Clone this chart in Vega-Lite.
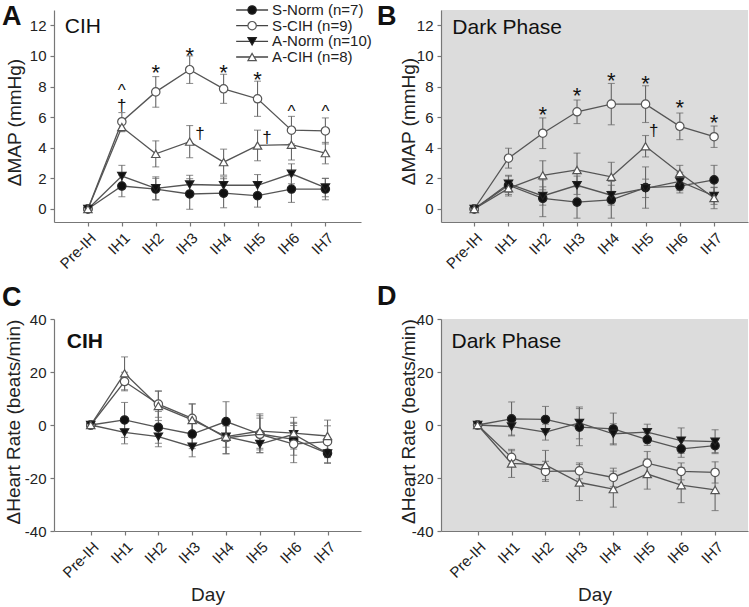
{
  "$schema": "https://vega.github.io/schema/vega-lite/v6.json",
  "autosize": {"type": "none"},
  "padding": {"left": 54, "top": 10, "right": 695, "bottom": 597},
  "background": "white",
  "bounds": "flush",
  "columns": 2,
  "spacing": {"row": 97, "column": 80},
  "resolve": {"scale": {"x": "independent", "y": "independent", "shape": "independent", "fill": "independent", "stroke": "independent"}},
  "config": {
    "font": "Liberation Sans",
    "view": {"stroke": null},
    "axis": {"domainColor": "#777", "tickColor": "#777", "labelColor": "#222", "titleColor": "#222", "labelFontSize": 15, "titleFontSize": 19, "titleFontWeight": "normal", "grid": false, "tickSize": 4, "labelPadding": 4, "domainWidth": 1.2, "tickWidth": 1.2},
    "title": {"font": "Liberation Sans"}
  },
  "datasets": {
    "legend": [
      {"series": "S-Norm (n=7)"},
      {"series": "S-CIH (n=9)"},
      {"series": "A-Norm (n=10)"},
      {"series": "A-CIH (n=8)"}
    ],
    "series": [
      {"panel": "A", "series": "S-Norm (n=7)", "day": 0, "mean": 0, "err": 0},
      {"panel": "A", "series": "S-Norm (n=7)", "day": 1, "mean": 1.5, "err": 0.7},
      {"panel": "A", "series": "S-Norm (n=7)", "day": 2, "mean": 1.3, "err": 0.7},
      {"panel": "A", "series": "S-Norm (n=7)", "day": 3, "mean": 0.98, "err": 1.0},
      {"panel": "A", "series": "S-Norm (n=7)", "day": 4, "mean": 1.03, "err": 0.95},
      {"panel": "A", "series": "S-Norm (n=7)", "day": 5, "mean": 0.87, "err": 0.75},
      {"panel": "A", "series": "S-Norm (n=7)", "day": 6, "mean": 1.3, "err": 0.87},
      {"panel": "A", "series": "S-Norm (n=7)", "day": 7, "mean": 1.3, "err": 0.7},
      {"panel": "A", "series": "S-CIH (n=9)", "day": 0, "mean": 0, "err": 0},
      {"panel": "A", "series": "S-CIH (n=9)", "day": 1, "mean": 5.7, "err": 0.6},
      {"panel": "A", "series": "S-CIH (n=9)", "day": 2, "mean": 7.65, "err": 1.0},
      {"panel": "A", "series": "S-CIH (n=9)", "day": 3, "mean": 9.1, "err": 0.9},
      {"panel": "A", "series": "S-CIH (n=9)", "day": 4, "mean": 7.85, "err": 0.95},
      {"panel": "A", "series": "S-CIH (n=9)", "day": 5, "mean": 7.2, "err": 1.15},
      {"panel": "A", "series": "S-CIH (n=9)", "day": 6, "mean": 5.15, "err": 0.9},
      {"panel": "A", "series": "S-CIH (n=9)", "day": 7, "mean": 5.1, "err": 0.85},
      {"panel": "A", "series": "A-Norm (n=10)", "day": 0, "mean": 0, "err": 0},
      {"panel": "A", "series": "A-Norm (n=10)", "day": 1, "mean": 2.15, "err": 0.7},
      {"panel": "A", "series": "A-Norm (n=10)", "day": 2, "mean": 1.35, "err": 0.75},
      {"panel": "A", "series": "A-Norm (n=10)", "day": 3, "mean": 1.6, "err": 0.6},
      {"panel": "A", "series": "A-Norm (n=10)", "day": 4, "mean": 1.55, "err": 0.55},
      {"panel": "A", "series": "A-Norm (n=10)", "day": 5, "mean": 1.55, "err": 0.7},
      {"panel": "A", "series": "A-Norm (n=10)", "day": 6, "mean": 2.3, "err": 0.65},
      {"panel": "A", "series": "A-Norm (n=10)", "day": 7, "mean": 1.4, "err": 0.6},
      {"panel": "A", "series": "A-CIH (n=8)", "day": 0, "mean": 0, "err": 0},
      {"panel": "A", "series": "A-CIH (n=8)", "day": 1, "mean": 5.35, "err": 0.3},
      {"panel": "A", "series": "A-CIH (n=8)", "day": 2, "mean": 3.6, "err": 0.85},
      {"panel": "A", "series": "A-CIH (n=8)", "day": 3, "mean": 4.4, "err": 1.05},
      {"panel": "A", "series": "A-CIH (n=8)", "day": 4, "mean": 3.06, "err": 0.85},
      {"panel": "A", "series": "A-CIH (n=8)", "day": 5, "mean": 4.15, "err": 1.0},
      {"panel": "A", "series": "A-CIH (n=8)", "day": 6, "mean": 4.2, "err": 1.0},
      {"panel": "A", "series": "A-CIH (n=8)", "day": 7, "mean": 3.65, "err": 0.7},

      {"panel": "B", "series": "S-Norm (n=7)", "day": 0, "mean": 0, "err": 0},
      {"panel": "B", "series": "S-Norm (n=7)", "day": 1, "mean": 1.55, "err": 0.6},
      {"panel": "B", "series": "S-Norm (n=7)", "day": 2, "mean": 0.7, "err": 1.2},
      {"panel": "B", "series": "S-Norm (n=7)", "day": 3, "mean": 0.45, "err": 1.05},
      {"panel": "B", "series": "S-Norm (n=7)", "day": 4, "mean": 0.6, "err": 1.2},
      {"panel": "B", "series": "S-Norm (n=7)", "day": 5, "mean": 1.4, "err": 1.35},
      {"panel": "B", "series": "S-Norm (n=7)", "day": 6, "mean": 1.5, "err": 0.45},
      {"panel": "B", "series": "S-Norm (n=7)", "day": 7, "mean": 1.9, "err": 0.95},
      {"panel": "B", "series": "S-CIH (n=9)", "day": 0, "mean": 0, "err": 0},
      {"panel": "B", "series": "S-CIH (n=9)", "day": 1, "mean": 3.32, "err": 0.65},
      {"panel": "B", "series": "S-CIH (n=9)", "day": 2, "mean": 4.95, "err": 1.0},
      {"panel": "B", "series": "S-CIH (n=9)", "day": 3, "mean": 6.35, "err": 0.77},
      {"panel": "B", "series": "S-CIH (n=9)", "day": 4, "mean": 6.85, "err": 1.35},
      {"panel": "B", "series": "S-CIH (n=9)", "day": 5, "mean": 6.85, "err": 1.2},
      {"panel": "B", "series": "S-CIH (n=9)", "day": 6, "mean": 5.4, "err": 0.87},
      {"panel": "B", "series": "S-CIH (n=9)", "day": 7, "mean": 4.72, "err": 0.7},
      {"panel": "B", "series": "A-Norm (n=10)", "day": 0, "mean": 0, "err": 0},
      {"panel": "B", "series": "A-Norm (n=10)", "day": 1, "mean": 1.65, "err": 0.55},
      {"panel": "B", "series": "A-Norm (n=10)", "day": 2, "mean": 0.85, "err": 0.6},
      {"panel": "B", "series": "A-Norm (n=10)", "day": 3, "mean": 1.55, "err": 0.6},
      {"panel": "B", "series": "A-Norm (n=10)", "day": 4, "mean": 0.9, "err": 0.65},
      {"panel": "B", "series": "A-Norm (n=10)", "day": 5, "mean": 1.35, "err": 0.6},
      {"panel": "B", "series": "A-Norm (n=10)", "day": 6, "mean": 1.8, "err": 0.6},
      {"panel": "B", "series": "A-Norm (n=10)", "day": 7, "mean": 0.85, "err": 0.55},
      {"panel": "B", "series": "A-CIH (n=8)", "day": 0, "mean": 0, "err": 0},
      {"panel": "B", "series": "A-CIH (n=8)", "day": 1, "mean": 1.35, "err": 0.5},
      {"panel": "B", "series": "A-CIH (n=8)", "day": 2, "mean": 2.2, "err": 0.95},
      {"panel": "B", "series": "A-CIH (n=8)", "day": 3, "mean": 2.55, "err": 1.1},
      {"panel": "B", "series": "A-CIH (n=8)", "day": 4, "mean": 2.1, "err": 0.95},
      {"panel": "B", "series": "A-CIH (n=8)", "day": 5, "mean": 4.1, "err": 0.7},
      {"panel": "B", "series": "A-CIH (n=8)", "day": 6, "mean": 2.35, "err": 0.5},
      {"panel": "B", "series": "A-CIH (n=8)", "day": 7, "mean": 0.72, "err": 0.7},

      {"panel": "C", "series": "S-Norm (n=7)", "day": 0, "mean": 0, "err": 0},
      {"panel": "C", "series": "S-Norm (n=7)", "day": 1, "mean": 1.9, "err": 6.6},
      {"panel": "C", "series": "S-Norm (n=7)", "day": 2, "mean": -0.9, "err": 6},
      {"panel": "C", "series": "S-Norm (n=7)", "day": 3, "mean": -3.4, "err": 5.5},
      {"panel": "C", "series": "S-Norm (n=7)", "day": 4, "mean": 1.3, "err": 7.5},
      {"panel": "C", "series": "S-Norm (n=7)", "day": 5, "mean": -3.4, "err": 6},
      {"panel": "C", "series": "S-Norm (n=7)", "day": 6, "mean": -5.4, "err": 6},
      {"panel": "C", "series": "S-Norm (n=7)", "day": 7, "mean": -10.7, "err": 3.8},
      {"panel": "C", "series": "S-CIH (n=9)", "day": 0, "mean": 0, "err": 0},
      {"panel": "C", "series": "S-CIH (n=9)", "day": 1, "mean": 16.4, "err": 3.5},
      {"panel": "C", "series": "S-CIH (n=9)", "day": 2, "mean": 7.9, "err": 5},
      {"panel": "C", "series": "S-CIH (n=9)", "day": 3, "mean": 2.5, "err": 5.5},
      {"panel": "C", "series": "S-CIH (n=9)", "day": 4, "mean": -4.8, "err": 6},
      {"panel": "C", "series": "S-CIH (n=9)", "day": 5, "mean": -3.5, "err": 7},
      {"panel": "C", "series": "S-CIH (n=9)", "day": 6, "mean": -7.2, "err": 7},
      {"panel": "C", "series": "S-CIH (n=9)", "day": 7, "mean": -6.3, "err": 6},
      {"panel": "C", "series": "A-Norm (n=10)", "day": 0, "mean": 0, "err": 0},
      {"panel": "C", "series": "A-Norm (n=10)", "day": 1, "mean": -2.8, "err": 4.3},
      {"panel": "C", "series": "A-Norm (n=10)", "day": 2, "mean": -4.4, "err": 3.8},
      {"panel": "C", "series": "A-Norm (n=10)", "day": 3, "mean": -8.2, "err": 3.8},
      {"panel": "C", "series": "A-Norm (n=10)", "day": 4, "mean": -4.4, "err": 4},
      {"panel": "C", "series": "A-Norm (n=10)", "day": 5, "mean": -7.2, "err": 3.2},
      {"panel": "C", "series": "A-Norm (n=10)", "day": 6, "mean": -3.5, "err": 4.5},
      {"panel": "C", "series": "A-Norm (n=10)", "day": 7, "mean": -10.7, "err": 3.5},
      {"panel": "C", "series": "A-CIH (n=8)", "day": 0, "mean": 0, "err": 0},
      {"panel": "C", "series": "A-CIH (n=8)", "day": 1, "mean": 19.5, "err": 6.2},
      {"panel": "C", "series": "A-CIH (n=8)", "day": 2, "mean": 7.2, "err": 5.5},
      {"panel": "C", "series": "A-CIH (n=8)", "day": 3, "mean": 1.9, "err": 6},
      {"panel": "C", "series": "A-CIH (n=8)", "day": 4, "mean": -4.4, "err": 6.5},
      {"panel": "C", "series": "A-CIH (n=8)", "day": 5, "mean": -2.3, "err": 6.5},
      {"panel": "C", "series": "A-CIH (n=8)", "day": 6, "mean": -3.1, "err": 6},
      {"panel": "C", "series": "A-CIH (n=8)", "day": 7, "mean": -4.15, "err": 6},

      {"panel": "D", "series": "S-Norm (n=7)", "day": 0, "mean": 0, "err": 0},
      {"panel": "D", "series": "S-Norm (n=7)", "day": 1, "mean": 2.3, "err": 6.4},
      {"panel": "D", "series": "S-Norm (n=7)", "day": 2, "mean": 2.1, "err": 4.9},
      {"panel": "D", "series": "S-Norm (n=7)", "day": 3, "mean": -0.8, "err": 7.0},
      {"panel": "D", "series": "S-Norm (n=7)", "day": 4, "mean": -1.5, "err": 6.0},
      {"panel": "D", "series": "S-Norm (n=7)", "day": 5, "mean": -5.5, "err": 2.2},
      {"panel": "D", "series": "S-Norm (n=7)", "day": 6, "mean": -9.0, "err": 3.2},
      {"panel": "D", "series": "S-Norm (n=7)", "day": 7, "mean": -7.8, "err": 2.6},
      {"panel": "D", "series": "S-CIH (n=9)", "day": 0, "mean": 0, "err": 0},
      {"panel": "D", "series": "S-CIH (n=9)", "day": 1, "mean": -12.2, "err": 2.5},
      {"panel": "D", "series": "S-CIH (n=9)", "day": 2, "mean": -17.5, "err": 3.8},
      {"panel": "D", "series": "S-CIH (n=9)", "day": 3, "mean": -17.3, "err": 3.0},
      {"panel": "D", "series": "S-CIH (n=9)", "day": 4, "mean": -19.8, "err": 3.5},
      {"panel": "D", "series": "S-CIH (n=9)", "day": 5, "mean": -14.4, "err": 4.4},
      {"panel": "D", "series": "S-CIH (n=9)", "day": 6, "mean": -17.5, "err": 3.2},
      {"panel": "D", "series": "S-CIH (n=9)", "day": 7, "mean": -17.9, "err": 4.0},
      {"panel": "D", "series": "A-Norm (n=10)", "day": 0, "mean": 0, "err": 0},
      {"panel": "D", "series": "A-Norm (n=10)", "day": 1, "mean": -0.6, "err": 3.2},
      {"panel": "D", "series": "A-Norm (n=10)", "day": 2, "mean": -2.7, "err": 3.0},
      {"panel": "D", "series": "A-Norm (n=10)", "day": 3, "mean": 0.8, "err": 6.0},
      {"panel": "D", "series": "A-Norm (n=10)", "day": 4, "mean": -3.3, "err": 3.8},
      {"panel": "D", "series": "A-Norm (n=10)", "day": 5, "mean": -2.7, "err": 3.0},
      {"panel": "D", "series": "A-Norm (n=10)", "day": 6, "mean": -5.9, "err": 4.8},
      {"panel": "D", "series": "A-Norm (n=10)", "day": 7, "mean": -6.3, "err": 4.5},
      {"panel": "D", "series": "A-CIH (n=8)", "day": 0, "mean": 0, "err": 0},
      {"panel": "D", "series": "A-CIH (n=8)", "day": 1, "mean": -14.5, "err": 5.3},
      {"panel": "D", "series": "A-CIH (n=8)", "day": 2, "mean": -15.1, "err": 5.5},
      {"panel": "D", "series": "A-CIH (n=8)", "day": 3, "mean": -21.7, "err": 6.8},
      {"panel": "D", "series": "A-CIH (n=8)", "day": 4, "mean": -24.2, "err": 6.8},
      {"panel": "D", "series": "A-CIH (n=8)", "day": 5, "mean": -18.5, "err": 5.7},
      {"panel": "D", "series": "A-CIH (n=8)", "day": 6, "mean": -22.7, "err": 6.6},
      {"panel": "D", "series": "A-CIH (n=8)", "day": 7, "mean": -24.5, "err": 7.8}
    ],
    "marks": [
      {"panel": "A", "day": 1, "mean": 7.41, "label": "^"},
      {"panel": "A", "day": 1, "mean": 6.43, "label": "†"},
      {"panel": "A", "day": 2, "mean": 8.43, "label": "*"},
      {"panel": "A", "day": 3, "mean": 9.54, "label": "*"},
      {"panel": "A", "day": 4, "mean": 8.43, "label": "*"},
      {"panel": "A", "day": 5, "mean": 7.98, "label": "*"},
      {"panel": "A", "day": 6, "mean": 6.01, "label": "^"},
      {"panel": "A", "day": 7, "mean": 6.01, "label": "^"},
      {"panel": "A", "day": 3.3, "mean": 4.57, "label": "†"},
      {"panel": "A", "day": 5.28, "mean": 4.31, "label": "†"},
      {"panel": "B", "day": 2, "mean": 5.69, "label": "*"},
      {"panel": "B", "day": 3, "mean": 6.9, "label": "*"},
      {"panel": "B", "day": 4, "mean": 7.92, "label": "*"},
      {"panel": "B", "day": 5, "mean": 7.7, "label": "*"},
      {"panel": "B", "day": 6, "mean": 6.13, "label": "*"},
      {"panel": "B", "day": 7, "mean": 5.15, "label": "*"},
      {"panel": "B", "day": 5.24, "mean": 4.74, "label": "†"}
    ],
    "names": [
      {"panel": "A", "day": -0.68, "mean": 11.48, "label": "CIH"},
      {"panel": "B", "day": -0.64, "mean": 11.41, "label": "Dark Phase"},
      {"panel": "C", "day": -0.71, "mean": 28.9, "label": "CIH"},
      {"panel": "D", "day": -0.77, "mean": 28.9, "label": "Dark Phase"}
    ]
  },
  "concat": [
    {
      "width": 307, "height": 212,
      "title": {"text": "A", "anchor": "start", "frame": "group", "fontSize": 27, "fontWeight": "bold", "color": "#111", "dx": -52, "offset": -49, "baseline": "alphabetic"},
      "resolve": {"scale": {"y": "independent"}},
      "layer": [
        {
          "encoding": {
            "x": {"field": "day", "type": "quantitative", "scale": {"domain": [-1, 8.05], "nice": false, "zero": false},
                  "axis": {"values": [0, 1, 2, 3, 4, 5, 6, 7], "labelExpr": "['Pre-IH','IH1','IH2','IH3','IH4','IH5','IH6','IH7'][datum.value]", "labelAngle": -45, "labelAlign": "right", "labelBaseline": "top", "title": null}},
            "y": {"field": "mean", "type": "quantitative", "scale": {"domain": [-0.85, 13], "nice": false, "zero": false},
                  "axis": {"values": [0, 2, 4, 6, 8, 10, 12], "title": "ΔMAP (mmHg)", "titleX": -40, "titleY": 112, "titleBaseline": "middle"}}
          },
          "layer": [
            {"data": {"name": "series"}, "transform": [{"filter": "datum.panel == 'A' && datum.day > 0"}],
             "mark": {"type": "errorbar", "color": "#666", "thickness": 1.1, "ticks": {"size": 7, "color": "#666", "strokeWidth": 1.1}},
             "encoding": {"yError": {"field": "err"}}},
            {"data": {"name": "series"}, "transform": [{"filter": "datum.panel == 'A'"}],
             "mark": {"type": "line", "color": "#555", "strokeWidth": 1.3},
             "encoding": {"detail": {"field": "series"}}},
            {"data": {"name": "series"}, "transform": [{"filter": "datum.panel == 'A'"}],
             "mark": {"type": "point", "filled": true, "size": 70, "strokeWidth": 1.2, "opacity": 1},
             "encoding": {
               "shape": {"field": "series", "type": "nominal", "scale": {"domain": ["S-Norm (n=7)", "S-CIH (n=9)", "A-Norm (n=10)", "A-CIH (n=8)"], "range": ["circle", "circle", "triangle-down", "triangle-up"]}, "legend": null},
               "fill": {"field": "series", "type": "nominal", "scale": {"domain": ["S-Norm (n=7)", "S-CIH (n=9)", "A-Norm (n=10)", "A-CIH (n=8)"], "range": ["#111111", "#ffffff", "#111111", "#ffffff"]}, "legend": null},
               "stroke": {"field": "series", "type": "nominal", "scale": {"domain": ["S-Norm (n=7)", "S-CIH (n=9)", "A-Norm (n=10)", "A-CIH (n=8)"], "range": ["#222222", "#555555", "#222222", "#555555"]}, "legend": null}
             }},
            {"data": {"name": "marks"}, "transform": [{"filter": "datum.panel == 'A' && datum.label == '*'"}],
             "mark": {"type": "text", "fontSize": 22, "color": "#111", "baseline": "alphabetic", "align": "center"},
             "encoding": {"text": {"field": "label"}}},
            {"data": {"name": "marks"}, "transform": [{"filter": "datum.panel == 'A' && datum.label != '*'"}],
             "mark": {"type": "text", "fontSize": 17, "color": "#111", "baseline": "alphabetic", "align": "center"},
             "encoding": {"text": {"field": "label"}}},
            {"data": {"name": "names"}, "transform": [{"filter": "datum.panel == 'A'"}],
             "mark": {"type": "text", "fontSize": 21, "color": "#111", "baseline": "alphabetic", "align": "left"},
             "encoding": {"text": {"field": "label"}}}
          ]
        },
        {
          "data": {"name": "legend"},
          "encoding": {
            "y": {"field": "series", "type": "nominal", "scale": {"type": "point", "domain": ["S-Norm (n=7)", "S-CIH (n=9)", "A-Norm (n=10)", "A-CIH (n=8)"], "range": [0, 47], "padding": 0}, "axis": null}
          },
          "layer": [
            {"mark": {"type": "rule", "color": "#444", "strokeWidth": 1.3},
             "encoding": {"x": {"datum": 4.37, "type": "quantitative"}, "x2": {"datum": 5.31}}},
            {"mark": {"type": "point", "filled": true, "size": 70, "strokeWidth": 1.2, "opacity": 1},
             "encoding": {
               "x": {"datum": 4.84, "type": "quantitative"},
               "shape": {"field": "series", "type": "nominal", "scale": {"domain": ["S-Norm (n=7)", "S-CIH (n=9)", "A-Norm (n=10)", "A-CIH (n=8)"], "range": ["circle", "circle", "triangle-down", "triangle-up"]}, "legend": null},
               "fill": {"field": "series", "type": "nominal", "scale": {"domain": ["S-Norm (n=7)", "S-CIH (n=9)", "A-Norm (n=10)", "A-CIH (n=8)"], "range": ["#111111", "#ffffff", "#111111", "#ffffff"]}, "legend": null},
               "stroke": {"field": "series", "type": "nominal", "scale": {"domain": ["S-Norm (n=7)", "S-CIH (n=9)", "A-Norm (n=10)", "A-CIH (n=8)"], "range": ["#222222", "#555555", "#222222", "#555555"]}, "legend": null}
             }},
            {"mark": {"type": "text", "fontSize": 15, "color": "#222", "baseline": "middle", "align": "left"},
             "encoding": {"x": {"datum": 5.43, "type": "quantitative"}, "text": {"field": "series"}, "size": {"value": 15}}}
          ]
        }
      ]
    },
    {
      "width": 307, "height": 212,
      "view": {"fill": "#dcdcdc", "stroke": null},
      "title": {"text": "B", "anchor": "start", "frame": "group", "fontSize": 27, "fontWeight": "bold", "color": "#111", "dx": -64, "offset": -42, "baseline": "alphabetic"},
      "encoding": {
        "x": {"field": "day", "type": "quantitative", "scale": {"domain": [-0.97, 7.99], "nice": false, "zero": false},
              "axis": {"values": [0, 1, 2, 3, 4, 5, 6, 7], "labelExpr": "['Pre-IH','IH1','IH2','IH3','IH4','IH5','IH6','IH7'][datum.value]", "labelAngle": -45, "labelAlign": "right", "labelBaseline": "top", "title": null}},
        "y": {"field": "mean", "type": "quantitative", "scale": {"domain": [-0.85, 13], "nice": false, "zero": false},
              "axis": {"values": [0, 2, 4, 6, 8, 10, 12], "title": "ΔMAP (mmHg)", "titleX": -33, "titleY": 111, "titleBaseline": "middle"}}
      },
      "layer": [
        {"data": {"name": "series"}, "transform": [{"filter": "datum.panel == 'B' && datum.day > 0"}],
         "mark": {"type": "errorbar", "color": "#666", "thickness": 1.1, "ticks": {"size": 7, "color": "#666", "strokeWidth": 1.1}},
         "encoding": {"yError": {"field": "err"}}},
        {"data": {"name": "series"}, "transform": [{"filter": "datum.panel == 'B'"}],
         "mark": {"type": "line", "color": "#555", "strokeWidth": 1.3},
         "encoding": {"detail": {"field": "series"}}},
        {"data": {"name": "series"}, "transform": [{"filter": "datum.panel == 'B'"}],
         "mark": {"type": "point", "filled": true, "size": 70, "strokeWidth": 1.2, "opacity": 1},
         "encoding": {
           "shape": {"field": "series", "type": "nominal", "scale": {"domain": ["S-Norm (n=7)", "S-CIH (n=9)", "A-Norm (n=10)", "A-CIH (n=8)"], "range": ["circle", "circle", "triangle-down", "triangle-up"]}, "legend": null},
           "fill": {"field": "series", "type": "nominal", "scale": {"domain": ["S-Norm (n=7)", "S-CIH (n=9)", "A-Norm (n=10)", "A-CIH (n=8)"], "range": ["#111111", "#ffffff", "#111111", "#ffffff"]}, "legend": null},
           "stroke": {"field": "series", "type": "nominal", "scale": {"domain": ["S-Norm (n=7)", "S-CIH (n=9)", "A-Norm (n=10)", "A-CIH (n=8)"], "range": ["#222222", "#555555", "#222222", "#555555"]}, "legend": null}
         }},
        {"data": {"name": "marks"}, "transform": [{"filter": "datum.panel == 'B' && datum.label == '*'"}],
         "mark": {"type": "text", "fontSize": 22, "color": "#111", "baseline": "alphabetic", "align": "center"},
         "encoding": {"text": {"field": "label"}}},
        {"data": {"name": "marks"}, "transform": [{"filter": "datum.panel == 'B' && datum.label != '*'"}],
         "mark": {"type": "text", "fontSize": 17, "color": "#111", "baseline": "alphabetic", "align": "center"},
         "encoding": {"text": {"field": "label"}}},
        {"data": {"name": "names"}, "transform": [{"filter": "datum.panel == 'B'"}],
         "mark": {"type": "text", "fontSize": 21, "color": "#111", "baseline": "alphabetic", "align": "left"},
         "encoding": {"text": {"field": "label"}}}
      ]
    },
    {
      "width": 307, "height": 212,
      "title": {"text": "C", "anchor": "start", "frame": "group", "fontSize": 27, "fontWeight": "bold", "color": "#111", "dx": -52, "offset": -21, "baseline": "alphabetic"},
      "encoding": {
        "x": {"field": "day", "type": "quantitative", "scale": {"domain": [-1.086, 7.99], "nice": false, "zero": false},
              "axis": {"values": [0, 1, 2, 3, 4, 5, 6, 7], "labelExpr": "['Pre-IH','IH1','IH2','IH3','IH4','IH5','IH6','IH7'][datum.value]", "labelAngle": -45, "labelAlign": "right", "labelBaseline": "top", "title": "Day", "titleY": 69, "titleBaseline": "alphabetic"}},
        "y": {"field": "mean", "type": "quantitative", "scale": {"domain": [-40, 40], "nice": false, "zero": false},
              "axis": {"values": [-40, -20, 0, 20, 40], "labelExpr": "'' + datum.value", "title": "ΔHeart Rate (beats/min)", "titleX": -41, "titleY": 102.5, "titleBaseline": "middle"}}
      },
      "layer": [
        {"data": {"name": "series"}, "transform": [{"filter": "datum.panel == 'C' && datum.day > 0"}],
         "mark": {"type": "errorbar", "color": "#666", "thickness": 1.1, "ticks": {"size": 7, "color": "#666", "strokeWidth": 1.1}},
         "encoding": {"yError": {"field": "err"}}},
        {"data": {"name": "series"}, "transform": [{"filter": "datum.panel == 'C'"}],
         "mark": {"type": "line", "color": "#555", "strokeWidth": 1.3},
         "encoding": {"detail": {"field": "series"}}},
        {"data": {"name": "series"}, "transform": [{"filter": "datum.panel == 'C'"}],
         "mark": {"type": "point", "filled": true, "size": 70, "strokeWidth": 1.2, "opacity": 1},
         "encoding": {
           "shape": {"field": "series", "type": "nominal", "scale": {"domain": ["S-Norm (n=7)", "S-CIH (n=9)", "A-Norm (n=10)", "A-CIH (n=8)"], "range": ["circle", "circle", "triangle-down", "triangle-up"]}, "legend": null},
           "fill": {"field": "series", "type": "nominal", "scale": {"domain": ["S-Norm (n=7)", "S-CIH (n=9)", "A-Norm (n=10)", "A-CIH (n=8)"], "range": ["#111111", "#ffffff", "#111111", "#ffffff"]}, "legend": null},
           "stroke": {"field": "series", "type": "nominal", "scale": {"domain": ["S-Norm (n=7)", "S-CIH (n=9)", "A-Norm (n=10)", "A-CIH (n=8)"], "range": ["#222222", "#555555", "#222222", "#555555"]}, "legend": null}
         }},
        {"data": {"name": "names"}, "transform": [{"filter": "datum.panel == 'C'"}],
         "mark": {"type": "text", "fontSize": 21, "fontWeight": "bold", "color": "#111", "baseline": "alphabetic", "align": "left"},
         "encoding": {"text": {"field": "label"}}}
      ]
    },
    {
      "width": 307, "height": 212,
      "view": {"fill": "#dcdcdc", "stroke": null},
      "title": {"text": "D", "anchor": "start", "frame": "group", "fontSize": 27, "fontWeight": "bold", "color": "#111", "dx": -64, "offset": -20, "baseline": "alphabetic"},
      "encoding": {
        "x": {"field": "day", "type": "quantitative", "scale": {"domain": [-1.08, 7.97], "nice": false, "zero": false},
              "axis": {"values": [0, 1, 2, 3, 4, 5, 6, 7], "labelExpr": "['Pre-IH','IH1','IH2','IH3','IH4','IH5','IH6','IH7'][datum.value]", "labelAngle": -45, "labelAlign": "right", "labelBaseline": "top", "title": "Day", "titleY": 69, "titleBaseline": "alphabetic"}},
        "y": {"field": "mean", "type": "quantitative", "scale": {"domain": [-40, 40], "nice": false, "zero": false},
              "axis": {"values": [-40, -20, 0, 20, 40], "labelExpr": "'' + datum.value", "title": "ΔHeart Rate (beats/min)", "titleX": -33, "titleY": 102, "titleBaseline": "middle"}}
      },
      "layer": [
        {"data": {"name": "series"}, "transform": [{"filter": "datum.panel == 'D' && datum.day > 0"}],
         "mark": {"type": "errorbar", "color": "#666", "thickness": 1.1, "ticks": {"size": 7, "color": "#666", "strokeWidth": 1.1}},
         "encoding": {"yError": {"field": "err"}}},
        {"data": {"name": "series"}, "transform": [{"filter": "datum.panel == 'D'"}],
         "mark": {"type": "line", "color": "#555", "strokeWidth": 1.3},
         "encoding": {"detail": {"field": "series"}}},
        {"data": {"name": "series"}, "transform": [{"filter": "datum.panel == 'D'"}],
         "mark": {"type": "point", "filled": true, "size": 70, "strokeWidth": 1.2, "opacity": 1},
         "encoding": {
           "shape": {"field": "series", "type": "nominal", "scale": {"domain": ["S-Norm (n=7)", "S-CIH (n=9)", "A-Norm (n=10)", "A-CIH (n=8)"], "range": ["circle", "circle", "triangle-down", "triangle-up"]}, "legend": null},
           "fill": {"field": "series", "type": "nominal", "scale": {"domain": ["S-Norm (n=7)", "S-CIH (n=9)", "A-Norm (n=10)", "A-CIH (n=8)"], "range": ["#111111", "#ffffff", "#111111", "#ffffff"]}, "legend": null},
           "stroke": {"field": "series", "type": "nominal", "scale": {"domain": ["S-Norm (n=7)", "S-CIH (n=9)", "A-Norm (n=10)", "A-CIH (n=8)"], "range": ["#222222", "#555555", "#222222", "#555555"]}, "legend": null}
         }},
        {"data": {"name": "names"}, "transform": [{"filter": "datum.panel == 'D'"}],
         "mark": {"type": "text", "fontSize": 21, "color": "#111", "baseline": "alphabetic", "align": "left"},
         "encoding": {"text": {"field": "label"}}}
      ]
    }
  ]
}
